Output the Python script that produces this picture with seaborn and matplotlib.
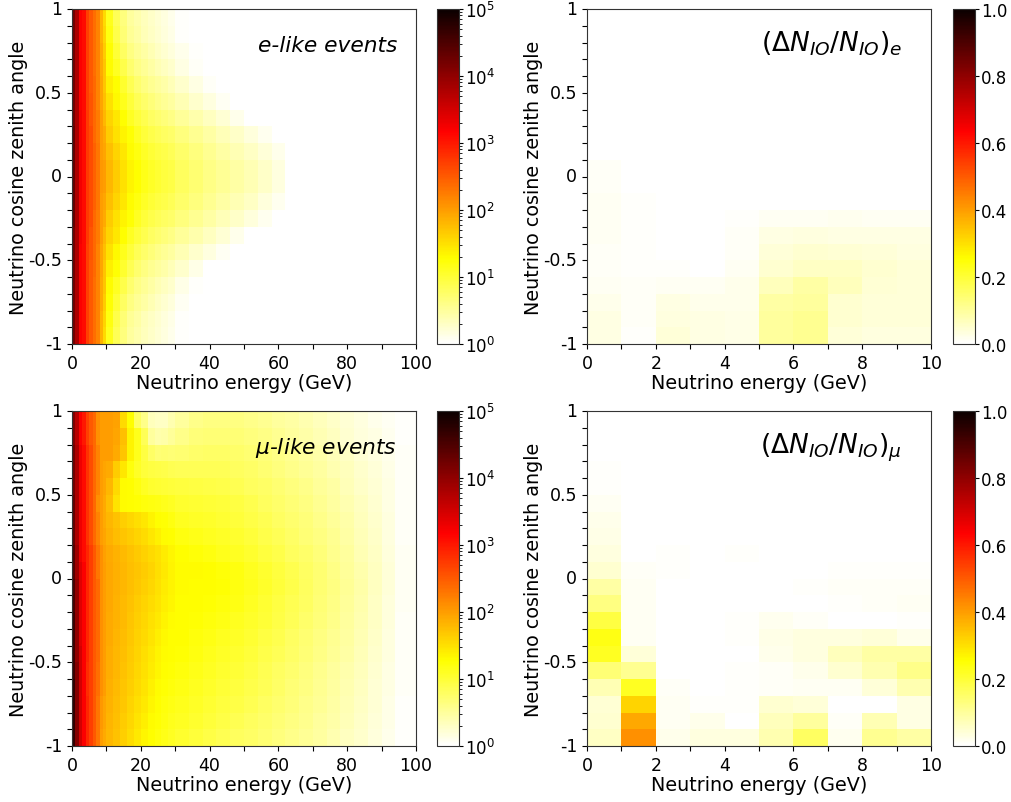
import numpy as np
import pandas as pd
import matplotlib
matplotlib.use("Agg")
import matplotlib.pyplot as plt
import seaborn as sns
from matplotlib.colors import LogNorm

W, H = 1011, 803

# energy bin widths (GeV) for the event maps, the fine bins sit at low energy
bin_widths = [1] * 10 + [2] * 10 + [4] * 16 + [6]

# event counts in tenths of a decade (10 -> 10 events, 30 -> 1000 events), top row is cos = 1
# trailing empty bins are left out
e_like_db = [
    [42, 38, 32, 31, 27, 25, 23.5, 22, 18.5, 15.5, 11.5, 8.5, 6.5, 5, 4.2, 3.5, 2.8, 2.2, 1.6, 1, 0.2],
    [42, 38, 32, 31, 27, 25, 23.5, 22, 18.5, 16, 12, 9, 7, 5.4, 4.5, 3.7, 3, 2.4, 1.8, 1.2, 0.3],
    [42, 38, 32, 31, 27, 25, 23.5, 22, 19, 16.5, 12.7, 10, 8, 6.4, 5.3, 4.5, 3.8, 3.1, 2.5, 1.9, 1, 0.2],
    [42, 38, 32, 31, 27, 25, 23.5, 22, 19, 17, 13, 11, 9, 7.4, 6.2, 5.3, 4.5, 3.8, 3.2, 2.6, 1.5, 0.5],
    [42, 38, 32, 31, 27, 25, 24, 22, 19.5, 17, 14, 12.7, 10.5, 8.7, 7.3, 6.3, 5.5, 4.9, 4.3, 3.7, 2.7, 1.5, 0.4],
    [42, 38, 32, 31, 27, 25.5, 24, 22, 19.5, 17.5, 15, 13.2, 11.5, 9.8, 8.5, 7.5, 6.7, 6, 5.4, 4.8, 3.8, 2.7, 1.6, 0.6],
    [42, 38, 32.5, 31, 27.5, 25.5, 24, 22.5, 20, 18, 16, 14.5, 12.8, 11, 9.8, 8.8, 8, 7.4, 6.8, 6.2, 5.2, 4.2, 3.2, 2.2, 1],
    [43, 38, 32.5, 31, 27.5, 26, 24, 22.5, 20, 19, 16.5, 15, 13.5, 12.5, 11, 9.8, 9, 8.5, 8, 7.5, 6.5, 5.5, 4.6, 3.7, 2.8, 1.8, 0.8],
    [43, 38, 32.5, 31, 27.5, 26, 24.5, 23, 20, 19.5, 17.5, 16, 14.5, 13, 12, 10.8, 10, 9.4, 9, 8.5, 7.5, 6.5, 5.5, 4.6, 3.8, 3, 2, 1],
    [43, 38, 32.5, 31, 27.5, 26, 24.5, 23, 20.5, 20, 18, 16.5, 15, 13.5, 12.7, 11.7, 10.8, 10.2, 9.7, 9.2, 8.2, 7.2, 6.2, 5.4, 4.6, 3.8, 2.9, 1.7],
    [43, 38, 32.5, 31, 27.5, 26, 24.5, 23, 20.5, 20, 18, 16.5, 15, 13.5, 12.7, 11.7, 10.8, 10.2, 9.7, 9.2, 8.2, 7.2, 6.2, 5.4, 4.6, 3.8, 2.9, 1.7],
    [43, 38, 32.5, 31, 27.5, 26, 24.5, 23, 20, 19.5, 17.5, 16, 14.5, 13, 12, 10.8, 10, 9.4, 9, 8.5, 7.5, 6.5, 5.5, 4.6, 3.8, 3, 1.8, 0.8],
    [43, 38, 32.5, 31, 27.5, 26, 24, 22.5, 20, 19, 16.5, 15, 13.5, 12.5, 11, 9.8, 9, 8.5, 8, 7.5, 6.5, 5.5, 4.6, 3.7, 2.8, 1.8, 0.8],
    [42, 38, 32.5, 31, 27.5, 25.5, 24, 22.5, 20, 18, 16, 14.5, 12.8, 11, 9.8, 8.8, 8, 7.4, 6.8, 6.2, 5.2, 4.2, 3.2, 2.2, 1],
    [42, 38, 32, 31, 27, 25.5, 24, 22, 19.5, 17.5, 15, 13.2, 11.5, 9.8, 8.5, 7.5, 6.7, 6, 5.4, 4.8, 3.8, 2.7, 1.6, 0.6],
    [42, 38, 32, 31, 27, 25, 24, 22, 19.5, 17, 14, 12.5, 10.5, 8.7, 7.3, 6.3, 5.5, 4.9, 4.3, 3.7, 2.7, 1.2],
    [42, 38, 32, 31, 27, 25, 23.5, 22, 19, 17, 13, 11, 9, 7.4, 6.2, 5.3, 4.5, 3.8, 3.2, 2.6, 1.3, 0.3],
    [42, 38, 32, 31, 27, 25, 23.5, 22, 19, 16.5, 12.5, 10, 8, 6.4, 5.3, 4.5, 3.8, 3.1, 2.5, 1.9, 0.7],
    [42, 38, 32, 31, 27, 25, 23.5, 22, 18.5, 16, 12, 9, 7, 5.4, 4.5, 3.7, 3, 2.4, 1.8, 1.2, 0.3],
    [42, 38, 32, 31, 27, 25, 23.5, 22, 18.5, 15.5, 11.5, 8.5, 6.5, 5, 4.2, 3.5, 2.8, 2.2, 1.6, 1, 0.2],
]

mu_like_db = [
    [41, 37, 32, 30, 27, 25, 24, 21, 20, 20, 20, 19.7, 15.5, 12.7, 8, 6, 3.4, 3, 3, 4, 5, 6, 6.3, 6.3, 6.3, 6, 5.6, 5, 4.6, 4, 3.4, 2.8, 2.2, 1.6, 1.1, 0.7, 0.2],
    [41, 37, 32, 30, 27, 25, 24, 21, 20, 20, 20, 19.5, 17.5, 13.5, 11.5, 8.5, 5, 4.2, 4.4, 5.2, 6, 6.8, 7, 7, 7, 6.6, 6.2, 5.6, 5, 4.4, 3.8, 3.2, 2.5, 1.9, 1.4, 0.9, 0.3],
    [42, 38, 33, 31, 28, 26, 24, 22, 20, 20, 20, 19, 17, 13.5, 11.5, 9.5, 7.8, 7, 7.2, 7, 7.2, 7.6, 7.8, 7.8, 7.6, 7.2, 6.8, 6.2, 5.6, 5, 4.4, 3.7, 3, 2.3, 1.7, 1.1, 0.4],
    [42, 38, 33, 31, 28, 26, 24, 22, 20, 19.5, 19, 16.5, 14.5, 12.2, 10.8, 9.8, 9.4, 9.2, 9, 8.7, 8.4, 8.5, 8.5, 8.4, 8.1, 7.7, 7.2, 6.6, 6, 5.4, 4.8, 4.1, 3.4, 2.6, 2, 1.3, 0.5],
    [42, 38, 33, 31, 28, 26, 24, 22, 20, 19.5, 18, 15.5, 13, 12.7, 12, 11, 10.5, 10.2, 10, 9.8, 9.6, 9.4, 9.2, 9, 8.7, 8.2, 7.7, 7.1, 6.5, 5.9, 5.2, 4.5, 3.7, 2.9, 2.2, 1.4, 0.5],
    [43, 38, 33, 31, 28, 26, 24, 21, 20, 19, 17.5, 14.8, 13, 12.7, 12.5, 12.3, 12, 11.8, 11.5, 11, 10.4, 10.2, 10, 9.8, 9.4, 8.8, 8.2, 7.6, 7, 6.3, 5.6, 4.8, 4, 3.2, 2.4, 1.5, 0.5],
    [43, 38, 33, 31, 28, 26, 24, 22, 20, 19, 18, 17.2, 16.4, 15.8, 15.2, 14.6, 13.6, 12.8, 12.5, 12, 11.2, 10.9, 10.6, 10.3, 9.9, 9.3, 8.7, 8, 7.4, 6.7, 6, 5.2, 4.3, 3.4, 2.6, 1.6, 0.5],
    [43, 38, 33, 31, 28, 26, 24, 22, 20, 19.5, 18.4, 17.7, 17, 16.5, 15.9, 15.3, 14.6, 13.8, 13, 12.7, 12, 11.6, 11.2, 10.8, 10.4, 9.8, 9.1, 8.5, 7.8, 7, 6.3, 5.5, 4.6, 3.7, 2.8, 1.7, 0.5],
    [44, 39, 33, 31, 29, 27, 25, 23, 21, 19.8, 19, 18.4, 17.8, 17.2, 16.7, 16.2, 15.6, 15, 14.2, 13.4, 12.8, 12.4, 12, 11.5, 11, 10.4, 9.7, 9, 8.2, 7.5, 6.7, 5.8, 4.9, 3.9, 3, 1.8, 0.6],
    [44, 39, 34, 32, 29, 27, 25, 23, 21, 20, 19.3, 18.7, 18.1, 17.5, 17, 16.5, 15.9, 15.2, 14.4, 13.6, 13, 12.9, 12.7, 12.4, 12, 11.2, 10.4, 9.6, 8.8, 8, 7.1, 6.2, 5.2, 4.2, 3.2, 2, 0.6],
    [45, 40, 34, 32, 29, 27, 25, 24, 21, 20, 19.2, 18.6, 18, 17.4, 16.8, 16.3, 15.7, 15, 14.2, 13.5, 12.9, 12.8, 12.7, 12.5, 12.1, 11.4, 10.6, 9.8, 9, 8.1, 7.2, 6.3, 5.3, 4.3, 3.2, 2, 0.6],
    [45, 40, 34, 32, 29, 27, 25, 24, 21, 20, 19.2, 18.5, 17.9, 17.3, 16.6, 16, 15.4, 14.7, 14, 13.3, 12.8, 12.7, 12.5, 12.2, 11.8, 11.1, 10.3, 9.5, 8.7, 7.9, 7, 6.1, 5.2, 4.2, 3.1, 1.9, 0.6],
    [46, 40, 34, 32, 29, 27, 25, 24, 21, 20, 19, 18.4, 17.8, 17.1, 16.4, 15.7, 15, 14.3, 13.6, 13, 12.8, 12.5, 12.2, 11.8, 11.3, 10.7, 10, 9.2, 8.4, 7.6, 6.7, 5.9, 5, 4, 3, 1.8, 0.5],
    [46, 40, 34, 32, 29, 27, 25, 24, 21, 20, 19, 18.3, 17.6, 16.9, 16.2, 15.5, 14.7, 14, 13.2, 12.8, 12.7, 12.3, 11.8, 11.3, 10.8, 10.2, 9.5, 8.8, 8, 7.2, 6.4, 5.6, 4.7, 3.8, 2.8, 1.7, 0.5],
    [46, 40, 35, 32, 29, 27, 25, 24, 21, 20, 18.8, 18.1, 17.4, 16.7, 16, 15.2, 14.4, 13.6, 13, 12.7, 12.5, 12, 11.4, 10.9, 10.4, 9.8, 9.1, 8.4, 7.7, 6.9, 6.1, 5.3, 4.5, 3.6, 2.6, 1.6, 0.5],
    [46, 41, 35, 32, 28.5, 27, 25, 23.5, 21, 20, 18.8, 18, 17.3, 16.5, 15.8, 15, 14.2, 13.3, 12.8, 12.5, 12.2, 11.6, 11, 10.5, 10, 9.4, 8.7, 8, 7.3, 6.6, 5.8, 5, 4.2, 3.4, 2.5, 1.5, 0.4],
    [47, 41, 35, 32, 28.5, 27, 25, 23.5, 21, 20, 18.6, 17.8, 17, 16.3, 15.5, 14.7, 13.8, 13, 12.6, 12.2, 11.8, 11.2, 10.6, 10.1, 9.6, 9, 8.4, 7.7, 7, 6.3, 5.6, 4.8, 4, 3.2, 2.3, 1.4, 0.4],
    [47, 41, 35, 32, 29, 27, 25, 23, 20.5, 19.5, 18.4, 17.6, 16.8, 16, 15.2, 14.3, 13.4, 12.8, 12.3, 11.8, 11.4, 10.8, 10.2, 9.7, 9.2, 8.6, 8, 7.4, 6.7, 6, 5.3, 4.6, 3.8, 3, 2.2, 1.3, 0.3],
    [47, 41, 35, 32, 29, 27, 25, 23, 20.5, 19.5, 18.2, 17.4, 16.6, 15.7, 14.8, 13.9, 13, 12.5, 12, 11.4, 11, 10.4, 9.8, 9.2, 8.7, 8.2, 7.6, 7, 6.4, 5.7, 5, 4.3, 3.6, 2.8, 2, 1.2, 0.3],
    [47, 41, 35, 32, 29, 27, 25, 23, 20, 19, 18, 17.2, 16.3, 15.3, 14.3, 13.3, 12.7, 12.2, 11.6, 11, 10.5, 9.9, 9.3, 8.7, 8.2, 7.7, 7.2, 6.6, 6, 5.4, 4.7, 4, 3.3, 2.6, 1.8, 1.1, 0.3],
]

# relative difference, 10 x 1 GeV bins, top row is cos = 1
e_ratio = [
    [0] * 10,
    [0] * 10,
    [0] * 10,
    [0] * 10,
    [0] * 10,
    [0] * 10,
    [0] * 10,
    [0] * 10,
    [0] * 10,
    [0.008, 0, 0, 0, 0, 0, 0, 0, 0, 0],
    [0.010, 0, 0, 0, 0, 0, 0, 0, 0, 0],
    [0.012, 0.006, 0, 0, 0.002, 0.002, 0.002, 0.002, 0.002, 0],
    [0.012, 0.005, 0, 0, 0.006, 0.012, 0.012, 0.018, 0.015, 0.015],
    [0.015, 0.005, 0, 0, 0.010, 0.030, 0.035, 0.030, 0.030, 0.030],
    [0.010, 0.005, 0, 0, 0.010, 0.040, 0.050, 0.045, 0.040, 0.035],
    [0.010, 0.005, 0.005, 0.003, 0.015, 0.050, 0.060, 0.060, 0.050, 0.040],
    [0.015, 0.010, 0.015, 0.015, 0.020, 0.070, 0.090, 0.070, 0.045, 0.040],
    [0.020, 0.010, 0.030, 0.020, 0.020, 0.090, 0.100, 0.050, 0.040, 0.040],
    [0.030, 0.010, 0.035, 0.030, 0.025, 0.100, 0.110, 0.050, 0.040, 0.040],
    [0.030, 0.005, 0.040, 0.030, 0.025, 0.100, 0.110, 0.040, 0.035, 0.035],
]

mu_ratio = [
    [0.001, 0, 0, 0, 0, 0, 0, 0, 0, 0],
    [0.002, 0, 0, 0, 0, 0, 0, 0, 0, 0],
    [0.003, 0, 0, 0, 0, 0, 0, 0, 0, 0],
    [0.004, 0, 0, 0, 0, 0, 0, 0, 0, 0],
    [0.006, 0, 0, 0, 0, 0, 0, 0, 0, 0],
    [0.015, 0, 0, 0, 0, 0, 0, 0, 0, 0],
    [0.020, 0, 0, 0, 0, 0, 0, 0, 0, 0],
    [0.025, 0, 0, 0, 0, 0, 0, 0, 0, 0],
    [0.035, 0, 0.006, 0.001, 0.004, 0.001, 0.002, 0.003, 0.003, 0.001],
    [0.050, 0.008, 0.004, 0.002, 0.002, 0.002, 0.002, 0.005, 0.005, 0.005],
    [0.090, 0.012, 0.002, 0, 0, 0.002, 0.004, 0.008, 0.008, 0.008],
    [0.125, 0.012, 0.002, 0, 0, 0.002, 0.002, 0.006, 0.010, 0.015],
    [0.190, 0.015, 0, 0, 0.006, 0.018, 0.010, 0, 0, 0.005],
    [0.235, 0.015, 0, 0, 0.005, 0.025, 0.035, 0.035, 0.040, 0.020],
    [0.220, 0.040, 0, 0, 0, 0.020, 0.035, 0.070, 0.090, 0.090],
    [0.140, 0.110, 0.003, 0, 0.004, 0.008, 0.020, 0.050, 0.080, 0.120],
    [0.075, 0.220, 0.008, 0.003, 0.006, 0.010, 0.012, 0.012, 0.040, 0.080],
    [0.045, 0.320, 0.012, 0.006, 0.004, 0.050, 0.040, 0, 0, 0.030],
    [0.050, 0.383, 0.015, 0.020, 0.003, 0.070, 0.100, 0.010, 0.075, 0.030],
    [0.060, 0.420, 0.020, 0.035, 0.035, 0.080, 0.160, 0.018, 0.110, 0.090],
]

cos_labels = ["1", "", "", "", "", "0.5", "", "", "", "", "0", "", "", "", "", "-0.5", "", "", "", "", "-1"]


def counts_table(rows):
    out = []
    for row in rows:
        full = list(row) + [0] * (len(bin_widths) - len(row))
        out.append(np.repeat(10 ** (np.array(full) / 10), bin_widths))
    return pd.DataFrame(out)


def make_axes(left, top, cbar_left):
    ax = fig.add_axes([left / W, 1 - (top + 335) / H, 344 / W, 335 / H])
    cax = fig.add_axes([cbar_left / W, 1 - (top + 335) / H, 22 / W, 335 / H])
    return ax, cax


def finish(ax, cax, max_e, step, every):
    ticks = np.arange(0, max_e + step / 2, step)
    labels = [str(int(t)) if i % every == 0 else "" for i, t in enumerate(ticks)]
    ax.set_xticks(ticks)
    ax.set_xticklabels(labels, rotation=0, fontsize=tick_size)
    ax.set_yticks(np.arange(21))
    ax.set_yticklabels(cos_labels, rotation=0, fontsize=tick_size)
    ax.tick_params(length=3.5, width=0.8, color="black")
    ax.set_xlabel("Neutrino energy (GeV)", fontsize=label_size, labelpad=1)
    ax.set_ylabel("Neutrino cosine zenith angle", fontsize=label_size, labelpad=0)
    for s in ax.spines.values():
        s.set_visible(True)
        s.set_linewidth(0.8)
        s.set_color("#333333")
    cb = ax.collections[0].colorbar
    cb.outline.set_visible(True)
    cb.outline.set_linewidth(0.8)
    cb.outline.set_edgecolor("#333333")
    cax.tick_params(labelsize=12, length=3, pad=1.5)
    cax.tick_params(which="minor", length=2)


tick_size = 12.5
label_size = 13.8

fig = plt.figure(figsize=(W / 100, H / 100), dpi=100)

# event maps on the left
ax, cax = make_axes(72, 10, 437)
sns.heatmap(counts_table(e_like_db), ax=ax, cbar_ax=cax, cmap="hot_r", norm=LogNorm(1, 1e5))
finish(ax, cax, 100, 10, 2)
ax.text(0.945, 0.875, "e-like events", transform=ax.transAxes, ha="right", fontsize=15.7, style="italic")

ax, cax = make_axes(72, 412, 437)
sns.heatmap(counts_table(mu_like_db), ax=ax, cbar_ax=cax, cmap="hot_r", norm=LogNorm(1, 1e5))
finish(ax, cax, 100, 10, 2)
ax.text(0.945, 0.875, r"$\mu$-like events", transform=ax.transAxes, ha="right", fontsize=15.7, style="italic")

# relative difference maps on the right
ax, cax = make_axes(587, 10, 953)
sns.heatmap(pd.DataFrame(e_ratio), ax=ax, cbar_ax=cax, cmap="hot_r", vmin=0, vmax=1)
finish(ax, cax, 10, 1, 2)
ax.text(0.915, 0.875, r"$(\Delta N_{IO}/N_{IO})_e$", transform=ax.transAxes, ha="right", fontsize=19)

ax, cax = make_axes(587, 412, 953)
sns.heatmap(pd.DataFrame(mu_ratio), ax=ax, cbar_ax=cax, cmap="hot_r", vmin=0, vmax=1)
finish(ax, cax, 10, 1, 2)
ax.text(0.915, 0.875, r"$(\Delta N_{IO}/N_{IO})_\mu$", transform=ax.transAxes, ha="right", fontsize=19)

fig.savefig("out.png", dpi=100)
